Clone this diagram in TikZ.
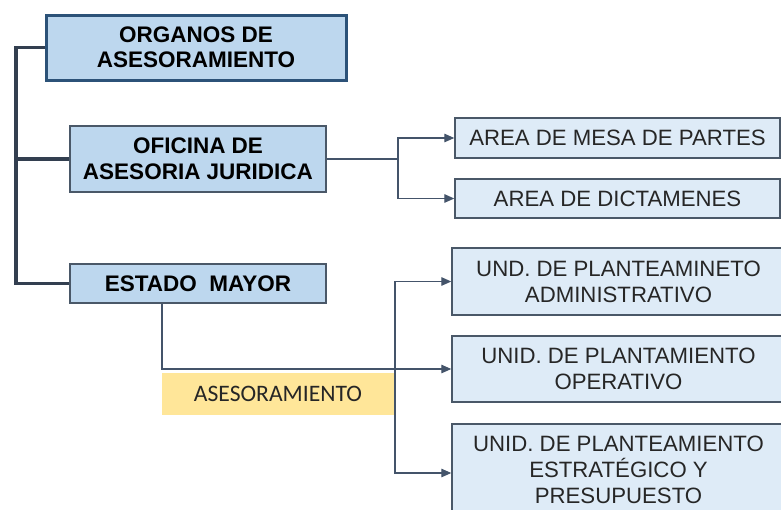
\documentclass[tikz,border=0pt]{standalone}
\usepackage{fontspec}
\setmainfont{Liberation Sans}
\newfontfamily\calibri{Carlito}
\usetikzlibrary{arrows.meta}
\definecolor{cajaazul}{HTML}{BDD7EE}
\definecolor{cajaclara}{HTML}{DEEBF7}
\definecolor{bordejefe}{HTML}{2C5278}
\definecolor{bordecaja}{HTML}{4A5868}
\definecolor{tronco}{HTML}{333F50}
\definecolor{enlace}{HTML}{44546A}
\definecolor{amarillo}{HTML}{FFE699}
\tikzset{
  jefe/.style={draw=bordejefe, line width=3pt, fill=cajaazul, align=center,
    inner sep=0pt, font=\fontsize{22.5}{25.5}\selectfont\bfseries},
  oficina/.style={draw=bordecaja, line width=1.4pt, fill=cajaazul, align=center,
    inner sep=0pt, font=\fontsize{22.5}{25.5}\selectfont\bfseries},
  area/.style={draw=bordecaja, line width=1.4pt, fill=cajaclara, align=center,
    inner sep=0pt, text=black!85, font=\fontsize{22.2}{26}\selectfont},
  rotulo/.style={fill=amarillo, inner sep=0pt, text=black!85,
    font=\calibri\fontsize{23.6}{26}\selectfont},
  tronco/.style={draw=tronco, line width=3.5pt},
  enlace/.style={draw=enlace, line width=1.3pt},
  flecha/.style={enlace, -{Triangle[length=10pt,width=8.5pt]}}
}
\begin{document}
\begin{tikzpicture}[x=1pt,y=-1pt]
  \useasboundingbox (0,0) rectangle (781,509);
  \clip (0,0) rectangle (781,509);
  % Cajas de la izquierda
  \node[jefe, minimum width=300pt, minimum height=65pt] (org) at (196,47.5)
    {ORGANOS DE\\ASESORAMIENTO};
  \node[oficina, minimum width=256pt, minimum height=66pt] (ofi) at (198,159)
    {OFICINA DE\\ASESORIA JURIDICA};
  \node[oficina, minimum width=256pt, minimum height=39pt] (est) at (198,283.5)
    {ESTADO\ \ MAYOR};
  % Cajas de la derecha
  \node[area, minimum width=325pt, minimum height=40pt] (mesa) at (617.5,138)
    {AREA DE MESA DE PARTES};
  \node[area, minimum width=325pt, minimum height=39pt] (dict) at (617.5,198.5)
    {AREA DE DICTAMENES};
  \node[area, minimum width=333pt, minimum height=67pt] (adm) at (618.5,281.5)
    {UND. DE PLANTEAMINETO\\ADMINISTRATIVO};
  \node[area, minimum width=333pt, minimum height=66pt] (ope) at (618.5,369)
    {UNID. DE PLANTAMIENTO\\OPERATIVO};
  \node[area, minimum width=333pt, minimum height=92pt] (estr) at (618.5,470)
    {UNID. DE PLANTEAMIENTO\\ESTRAT\'EGICO Y\\PRESUPUESTO};
  % Rotulo amarillo
  \node[rotulo, minimum width=232pt, minimum height=42pt] (ases) at (278,394)
    {ASESORAMIENTO};
  % Llave de la izquierda
  \coordinate (bus) at (16,0);
  \draw[tronco] (org.west) -- (org.west -| bus) |- (est.west);
  \draw[tronco] (ofi.west -| bus) -- (ofi.west);
  % Oficina de asesoria juridica
  \coordinate (jur) at (398,159);
  \draw[enlace] (ofi.east) -- (jur);
  \draw[flecha] (jur) |- (mesa.west);
  \draw[flecha] (jur) |- (dict.west);
  % Estado mayor
  \coordinate (pla) at (395,369);
  \draw[flecha] ([xshift=-36pt]est.south) |- (ope.west);
  \draw[flecha] (pla) |- (adm.west);
  \draw[flecha] (pla) |- ([yshift=-3pt]estr.west);
\end{tikzpicture}
\end{document}
